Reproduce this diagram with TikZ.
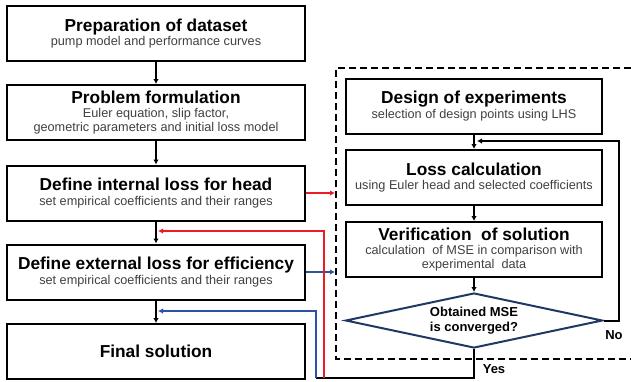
\documentclass[tikz,border=0pt]{standalone}
\usepackage{fontspec}
\setmainfont{Liberation Sans}
\usepackage{tikz}
\usetikzlibrary{arrows.meta,shapes.geometric}

\definecolor{redline}{RGB}{237,28,36}
\definecolor{blueline}{RGB}{46,80,168}
\definecolor{navy}{RGB}{31,56,100}
\definecolor{subgray}{RGB}{64,64,64}

\tikzset{
	stagebox/.style={draw, line width=2pt, minimum width=298pt, minimum height=55pt, align=center, inner sep=1pt, font=\fontsize{12.7}{13.5}\selectfont},
	loopbox/.style={draw, line width=2pt, minimum width=256pt, minimum height=55pt, align=center, inner sep=1pt, font=\fontsize{12.7}{13.5}\selectfont},
	arr/.style={line width=2pt, -{Latex[length=5pt,width=5.5pt]}},
}
\newcommand{\headline}[1]{{\fontsize{17.3}{19}\selectfont\bfseries #1}}
\newcommand{\subline}[1]{{\color{subgray}#1}}

\begin{document}
\begin{tikzpicture}[x=1pt,y=-1pt]
		\useasboundingbox (0,0) rectangle (631,381);
		%\draw[help lines] (0,0) grid (631,381);
		% left column
		\node[stagebox] (prep) at (156,33.5) {\headline{Preparation of dataset}\\[1pt] \subline{pump model and performance curves}};
		\node[stagebox] (prob) at (156,112.5) {\headline{Problem formulation}\\[1pt] \subline{Euler equation, slip factor,}\\ \subline{geometric parameters and initial loss model}};
		\node[stagebox] (intl) at (156,193) {\headline{Define internal loss for head}\\[1pt] \subline{set empirical coefficients and their ranges}};
		\node[stagebox] (extl) at (156,272) {\headline{Define external loss for efficiency}\\[1pt] \subline{set empirical coefficients and their ranges}};
		\node[stagebox] (final) at (156,351.5) {\headline{Final solution}};
		\draw[arr] (prep) -- (prob);
		\draw[arr] (prob) -- (intl);
		\draw[arr] (intl) -- (extl);
		\draw[arr] (extl) -- (final);

		% dashed loop
		\draw[line width=1.8pt, dash pattern=on 7pt off 4pt] (631,68) -- (336,68) -- (336,359) -- (631,359);
		\coordinate (dl) at (335,0);
		\node[loopbox] (doe) at (474,106) {\headline{Design of experiments}\\[1pt] \subline{selection of design points using LHS}};
		\node[loopbox] (loss) at (474,177.5) {\headline{Loss calculation}\\[1pt] \subline{using Euler head and selected coefficients}};
		\node[loopbox] (verif) at (474,249.5) {\headline{Verification \ of solution}\\[1pt] \subline{calculation \ of MSE in comparison with}\\ \subline{experimental \ data}};
		\node[diamond, draw=navy, line width=2pt, aspect=4.67, inner sep=0pt, minimum width=257pt, minimum height=55pt, align=center, font=\fontsize{13}{15}\selectfont\bfseries] (conv) at (474,320.5) {Obtained MSE\\is converged?};
		\draw[arr] (doe) -- (loss);
		\draw[arr] (loss) -- (verif);
		\draw[arr] (verif) -- (conv);

		% no loop
		\coordinate (nocorner) at (619,141);
		\draw[arr] (conv.east) -| (nocorner) -- (477,141);
		\node[font=\fontsize{13}{15}\selectfont\bfseries] (nolbl) at (614,335) {No};

		% yes exit
		\coordinate (yesend) at (316,378);
		\draw[line width=2pt] (conv.south) |- (yesend);
		\node[font=\fontsize{13}{15}\selectfont\bfseries] (yeslbl) at (494,369) {Yes};

		% coloured links
		\draw[arr, redline] (intl.east) -- (intl.east -| dl);
		\draw[arr, blueline] (extl.east) -- (extl.east -| dl);
		\draw[arr, redline] (324,378) -- (324,231) -- (158,231);
		\draw[arr, blueline] (316,378) -- (316,311) -- (158,311);
		\end{tikzpicture}
\end{document}
